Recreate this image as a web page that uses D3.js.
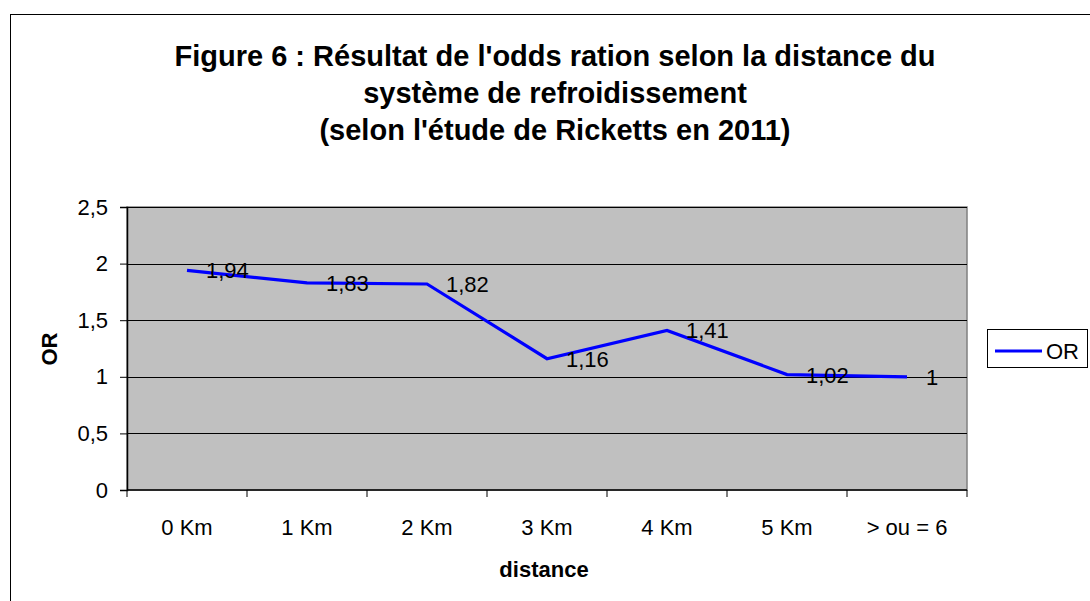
<!DOCTYPE html>
<html><head><meta charset="utf-8">
<script src="https://cdn.jsdelivr.net/npm/d3@7/dist/d3.min.js"></script>
<style>body{margin:0;background:#fff}svg{display:block;font-family:Arial,"Liberation Sans",sans-serif}</style>
</head><body><svg id="c" width="1090" height="601"></svg>
<script>
const categories = ["0 Km","1 Km","2 Km","3 Km","4 Km","5 Km","> ou = 6"];
const orValues = [1.94,1.83,1.82,1.16,1.41,1.02,1];
const yTicks = [0,0.5,1,1.5,2,2.5];
const titleLines = ["Figure 6 : Résultat de l'odds ration selon la distance du","système de refroidissement","(selon l'étude de Ricketts en 2011)"];
const fmt = v => String(v).replace(".", ",");

const svg = d3.select("#c");
const L=127, R=967, T=207, B=490;
svg.append("rect").attr("x",10.5).attr("y",14.5).attr("width",1090).attr("height",600).attr("fill","#fff").attr("stroke","#000").attr("stroke-width",1);

const x = d3.scaleBand().domain(categories).range([L,R]);
const y = d3.scaleLinear().domain([0,2.5]).range([B,T]);

svg.append("rect").attr("x",L).attr("y",T).attr("width",R-L).attr("height",B-T).attr("fill","#C0C0C0").attr("stroke","#808080").attr("stroke-width",1.5);

svg.append("g").selectAll("line").data(yTicks.filter(d=>d>0)).join("line")
  .attr("x1",L).attr("x2",R).attr("y1",d=>Math.round(y(d))+0.5).attr("y2",d=>Math.round(y(d))+0.5)
  .attr("stroke","#000").attr("stroke-width",1);

const yAxis = svg.append("g").attr("transform",`translate(${L},0)`)
  .call(d3.axisLeft(y).tickValues(yTicks).tickFormat(fmt).tickSize(7).tickPadding(12));
yAxis.select(".domain").attr("stroke","#000").attr("stroke-width",1.5);
yAxis.selectAll("text").attr("font-size",22).attr("fill","#000").attr("font-family","Arial, Liberation Sans, sans-serif");

const xb = svg.append("g").attr("transform",`translate(0,${B})`);
xb.append("line").attr("x1",L).attr("x2",R).attr("y1",0).attr("y2",0).attr("stroke","#000").attr("stroke-width",1.5);
const bounds = categories.map(c=>x(c)).concat([R]);
xb.selectAll("line.t").data(bounds).join("line").attr("class","t")
  .attr("x1",d=>d).attr("x2",d=>d).attr("y1",0).attr("y2",7).attr("stroke","#000").attr("stroke-width",1);
xb.selectAll("text").data(categories).join("text")
  .attr("x",d=>x(d)+x.bandwidth()/2).attr("y",45).attr("text-anchor","middle")
  .attr("font-size",22).attr("fill","#000").text(d=>d);

const pts = categories.map((c,i)=>[x(c)+x.bandwidth()/2, y(orValues[i])]);
svg.append("path").attr("d",d3.line()(pts)).attr("fill","none").attr("stroke","#0000FF").attr("stroke-width",3.2).attr("stroke-linejoin","miter");

svg.append("g").selectAll("text").data(orValues).join("text")
  .attr("x",(d,i)=>x(categories[i])+x.bandwidth()/2+19).attr("y",d=>y(d)+8)
  .attr("font-size",22).attr("fill","#000").text(fmt);

svg.append("g").selectAll("text").data(titleLines).join("text")
  .attr("x",555).attr("y",(d,i)=>66+i*37).attr("text-anchor","middle")
  .attr("font-size",29).attr("font-weight","bold").attr("fill","#000").text(d=>d);

svg.append("text").attr("transform","translate(57,349) rotate(-90)").attr("text-anchor","middle")
  .attr("font-size",22).attr("font-weight","bold").text("OR");
svg.append("text").attr("x",544).attr("y",577).attr("text-anchor","middle")
  .attr("font-size",22).attr("font-weight","bold").text("distance");

const lg = svg.append("g");
lg.append("rect").attr("x",987.5).attr("y",329.5).attr("width",100).attr("height",38).attr("fill","#fff").attr("stroke","#000");
lg.append("line").attr("x1",995).attr("x2",1042).attr("y1",351).attr("y2",351).attr("stroke","#0000FF").attr("stroke-width",3.2);
lg.append("text").attr("x",1046).attr("y",359).attr("font-size",22).text("OR");
</script></body></html>
